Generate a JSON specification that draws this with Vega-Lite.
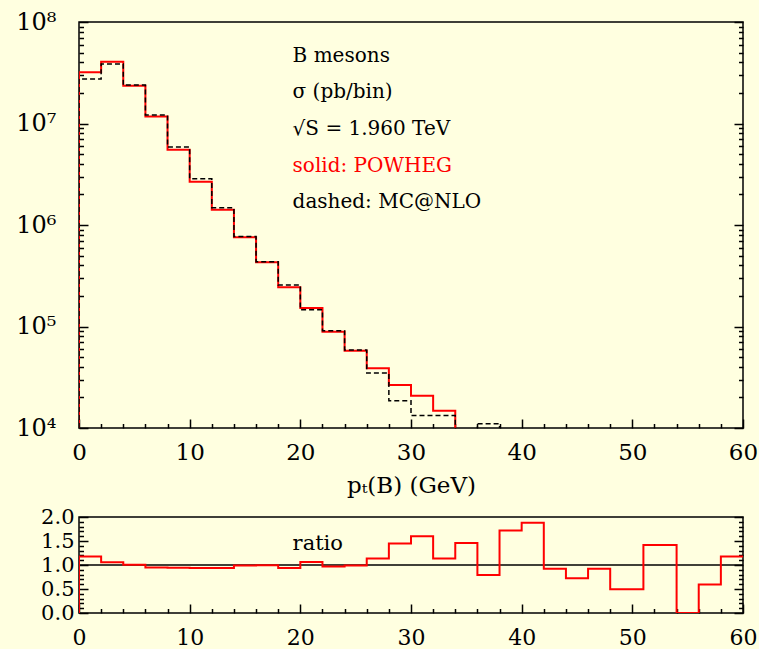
{
  "$schema": "https://vega.github.io/schema/vega-lite/v6.json",
  "background": "#ffffe0",
  "padding": {"left": 15, "top": 9, "right": 5, "bottom": 5},
  "spacing": 6,
  "config": {
    "font": "DejaVu Serif",
    "view": {"stroke": "black", "strokeWidth": 1.5, "fill": "#ffffe0"},
    "axis": {
      "domain": false, "grid": false, "tickColor": "black", "tickWidth": 1.5,
      "labelColor": "black", "labelFont": "DejaVu Serif", "titleFont": "DejaVu Serif",
      "titleColor": "black", "titleFontWeight": "normal", "labelFlush": false, "labelOverlap": false
    }
  },
  "datasets": {
    "powheg": [
      {"i": 0, "pt": 0, "sigma": 10000}, {"i": 1, "pt": 0, "sigma": 32000000},
      {"i": 2, "pt": 2, "sigma": 40600000}, {"i": 3, "pt": 4, "sigma": 23600000},
      {"i": 4, "pt": 6, "sigma": 11700000}, {"i": 5, "pt": 8, "sigma": 5520000},
      {"i": 6, "pt": 10, "sigma": 2670000}, {"i": 7, "pt": 12, "sigma": 1410000},
      {"i": 8, "pt": 14, "sigma": 756000}, {"i": 9, "pt": 16, "sigma": 429000},
      {"i": 10, "pt": 18, "sigma": 243000}, {"i": 11, "pt": 20, "sigma": 152000},
      {"i": 12, "pt": 22, "sigma": 88900}, {"i": 13, "pt": 24, "sigma": 57800},
      {"i": 14, "pt": 26, "sigma": 38700}, {"i": 15, "pt": 28, "sigma": 26500},
      {"i": 16, "pt": 30, "sigma": 20800}, {"i": 17, "pt": 32, "sigma": 14800},
      {"i": 18, "pt": 34, "sigma": 10000}
    ],
    "mcnlo": [
      {"i": 0, "pt": 0, "sigma": 10000}, {"i": 1, "pt": 0, "sigma": 27400000},
      {"i": 2, "pt": 2, "sigma": 38600000}, {"i": 3, "pt": 4, "sigma": 23900000},
      {"i": 4, "pt": 6, "sigma": 12100000}, {"i": 5, "pt": 8, "sigma": 5870000},
      {"i": 6, "pt": 10, "sigma": 2860000}, {"i": 7, "pt": 12, "sigma": 1480000},
      {"i": 8, "pt": 14, "sigma": 770000}, {"i": 9, "pt": 16, "sigma": 435000},
      {"i": 10, "pt": 18, "sigma": 256000}, {"i": 11, "pt": 20, "sigma": 146000},
      {"i": 12, "pt": 22, "sigma": 91000}, {"i": 13, "pt": 24, "sigma": 58600},
      {"i": 14, "pt": 26, "sigma": 34800}, {"i": 15, "pt": 28, "sigma": 18600},
      {"i": 16, "pt": 30, "sigma": 13300}, {"i": 17, "pt": 32, "sigma": 13300},
      {"i": 18, "pt": 34, "sigma": 5000}, {"i": 19, "pt": 36, "sigma": 11000},
      {"i": 20, "pt": 38, "sigma": 5000}
    ],
    "ratio": [
      {"i": 0, "pt": 0, "r": 0}, {"i": 1, "pt": 0, "r": 1.178},
      {"i": 2, "pt": 2, "r": 1.059}, {"i": 3, "pt": 4, "r": 1.005},
      {"i": 4, "pt": 6, "r": 0.95}, {"i": 5, "pt": 8, "r": 0.945},
      {"i": 6, "pt": 10, "r": 0.94}, {"i": 7, "pt": 12, "r": 0.935},
      {"i": 8, "pt": 14, "r": 0.99}, {"i": 9, "pt": 16, "r": 0.995},
      {"i": 10, "pt": 18, "r": 0.94}, {"i": 11, "pt": 20, "r": 1.06},
      {"i": 12, "pt": 22, "r": 0.97}, {"i": 13, "pt": 24, "r": 0.99},
      {"i": 14, "pt": 26, "r": 1.136}, {"i": 15, "pt": 28, "r": 1.45},
      {"i": 16, "pt": 30, "r": 1.6}, {"i": 17, "pt": 32, "r": 1.136},
      {"i": 18, "pt": 34, "r": 1.456}, {"i": 19, "pt": 36, "r": 0.794},
      {"i": 20, "pt": 38, "r": 1.72}, {"i": 21, "pt": 40, "r": 1.88},
      {"i": 22, "pt": 42, "r": 0.92}, {"i": 23, "pt": 44, "r": 0.725},
      {"i": 24, "pt": 46, "r": 0.92}, {"i": 25, "pt": 48, "r": 0.495},
      {"i": 26, "pt": 51, "r": 1.415}, {"i": 27, "pt": 54, "r": 0},
      {"i": 28, "pt": 56, "r": 0.592}, {"i": 29, "pt": 58, "r": 1.178},
      {"i": 30, "pt": 60, "r": 1.178}
    ],
    "one": [{}]
  },
  "vconcat": [
    {
      "width": 664,
      "height": 406,
      "resolve": {"axis": {"x": "independent", "y": "independent"}},
      "layer": [
        {
          "data": {"name": "powheg"},
          "mark": {"type": "line", "interpolate": "step-after", "color": "#ff0000", "strokeWidth": 2, "clip": true},
          "encoding": {
            "x": {
              "field": "pt", "type": "quantitative",
              "scale": {"domain": [0, 60], "nice": false, "zero": false},
              "axis": {
                "orient": "bottom", "title": "pₜ(B) (GeV)",
                "values": [0,2,4,6,8,10,12,14,16,18,20,22,24,26,28,30,32,34,36,38,40,42,44,46,48,50,52,54,56,58,60],
                "labelExpr": "datum.value % 10 === 0 ? datum.label : ''",
                "tickSize": {"condition": {"test": "datum.value % 10 === 0", "value": -9}, "value": -4.5},
                "labelFontSize": 23, "labelPadding": 22, "titleFontSize": 23, "titlePadding": 6
              }
            },
            "y": {
              "field": "sigma", "type": "quantitative",
              "scale": {"type": "log", "domain": [10000, 100000000], "nice": false},
              "axis": {
                "orient": "left", "title": null,
                "values": [10000,20000,30000,40000,50000,60000,70000,80000,90000,100000,200000,300000,400000,500000,600000,700000,800000,900000,1000000,2000000,3000000,4000000,5000000,6000000,7000000,8000000,9000000,10000000,20000000,30000000,40000000,50000000,60000000,70000000,80000000,90000000,100000000],
                "labelExpr": "abs(log(datum.value)/LN10 - round(log(datum.value)/LN10)) < 0.000001 ? '10' + ['⁰','¹','²','³','⁴','⁵','⁶','⁷','⁸','⁹'][round(log(datum.value)/LN10)] : ''",
                "tickSize": {"condition": {"test": "abs(log(datum.value)/LN10 - round(log(datum.value)/LN10)) < 0.000001", "value": -9}, "value": -4.5},
                "labelFontSize": 24, "labelPadding": 32
              }
            },
            "order": {"field": "i", "type": "quantitative"}
          }
        },
        {
          "data": {"name": "mcnlo"},
          "mark": {"type": "line", "interpolate": "step-after", "color": "black", "strokeWidth": 1.5, "strokeDash": [5, 3], "clip": true},
          "encoding": {
            "x": {"field": "pt", "type": "quantitative", "axis": null},
            "y": {
              "field": "sigma", "type": "quantitative",
              "axis": {
                "orient": "right", "title": null, "labels": false,
                "values": [10000,20000,30000,40000,50000,60000,70000,80000,90000,100000,200000,300000,400000,500000,600000,700000,800000,900000,1000000,2000000,3000000,4000000,5000000,6000000,7000000,8000000,9000000,10000000,20000000,30000000,40000000,50000000,60000000,70000000,80000000,90000000,100000000],
                "tickSize": {"condition": {"test": "abs(log(datum.value)/LN10 - round(log(datum.value)/LN10)) < 0.000001", "value": -9}, "value": -4.5}
              }
            },
            "order": {"field": "i", "type": "quantitative"}
          }
        },
        {
          "data": {"name": "one"},
          "mark": {"type": "text", "align": "left", "baseline": "middle", "fontSize": 20, "color": "black"},
          "encoding": {
            "x": {"datum": 19.3, "type": "quantitative", "axis": null},
            "y": {"datum": 46600000, "type": "quantitative", "axis": null},
            "text": {"value": "B mesons"}
          }
        },
        {
          "data": {"name": "one"},
          "mark": {"type": "text", "align": "left", "baseline": "middle", "fontSize": 20, "color": "black"},
          "encoding": {
            "x": {"datum": 19.3, "type": "quantitative", "axis": null},
            "y": {"datum": 20400000, "type": "quantitative", "axis": null},
            "text": {"value": "σ (pb/bin)"}
          }
        },
        {
          "data": {"name": "one"},
          "mark": {"type": "text", "align": "left", "baseline": "middle", "fontSize": 20, "color": "black"},
          "encoding": {
            "x": {"datum": 19.3, "type": "quantitative", "axis": null},
            "y": {"datum": 8830000, "type": "quantitative", "axis": null},
            "text": {"value": "√S = 1.960 TeV"}
          }
        },
        {
          "data": {"name": "one"},
          "mark": {"type": "text", "align": "left", "baseline": "middle", "fontSize": 20, "color": "#ff0000"},
          "encoding": {
            "x": {"datum": 19.3, "type": "quantitative", "axis": null},
            "y": {"datum": 3840000, "type": "quantitative", "axis": null},
            "text": {"value": "solid: POWHEG"}
          }
        },
        {
          "data": {"name": "one"},
          "mark": {"type": "text", "align": "left", "baseline": "middle", "fontSize": 20, "color": "black"},
          "encoding": {
            "x": {"datum": 19.3, "type": "quantitative", "axis": null},
            "y": {"datum": 1670000, "type": "quantitative", "axis": null},
            "text": {"value": "dashed: MC@NLO"}
          }
        }
      ]
    },
    {
      "width": 664,
      "height": 96,
      "resolve": {"axis": {"x": "independent", "y": "independent"}},
      "layer": [
        {
          "data": {"name": "one"},
          "mark": {"type": "rule", "color": "black", "strokeWidth": 1.5},
          "encoding": {
            "y": {
              "datum": 1, "type": "quantitative",
              "scale": {"domain": [0, 2], "nice": false},
              "axis": {
                "orient": "right", "title": null, "labels": false,
                "values": [0,0.1,0.2,0.3,0.4,0.5,0.6,0.7,0.8,0.9,1,1.1,1.2,1.3,1.4,1.5,1.6,1.7,1.8,1.9,2],
                "tickSize": {"condition": {"test": "abs(datum.value*2 - round(datum.value*2)) < 0.000001", "value": -9}, "value": -4.5}
              }
            }
          }
        },
        {
          "data": {"name": "ratio"},
          "mark": {"type": "line", "interpolate": "step-after", "color": "#ff0000", "strokeWidth": 2, "clip": true},
          "encoding": {
            "x": {
              "field": "pt", "type": "quantitative",
              "scale": {"domain": [0, 60], "nice": false, "zero": false},
              "axis": {
                "orient": "bottom", "title": null,
                "values": [0,2,4,6,8,10,12,14,16,18,20,22,24,26,28,30,32,34,36,38,40,42,44,46,48,50,52,54,56,58,60],
                "labelExpr": "datum.value % 10 === 0 ? datum.label : ''",
                "tickSize": {"condition": {"test": "datum.value % 10 === 0", "value": -9}, "value": -4.5},
                "labelFontSize": 22, "labelPadding": 23
              }
            },
            "y": {
              "field": "r", "type": "quantitative",
              "axis": {
                "orient": "left", "title": null,
                "values": [0,0.1,0.2,0.3,0.4,0.5,0.6,0.7,0.8,0.9,1,1.1,1.2,1.3,1.4,1.5,1.6,1.7,1.8,1.9,2],
                "labelExpr": "abs(datum.value*2 - round(datum.value*2)) < 0.000001 ? format(datum.value, '.1f') : ''",
                "tickSize": {"condition": {"test": "abs(datum.value*2 - round(datum.value*2)) < 0.000001", "value": -9}, "value": -4.5},
                "labelFontSize": 21, "labelPadding": 14
              }
            },
            "order": {"field": "i", "type": "quantitative"}
          }
        },
        {
          "data": {"name": "one"},
          "mark": {"type": "text", "align": "left", "baseline": "middle", "fontSize": 21, "color": "black"},
          "encoding": {
            "x": {"datum": 19.3, "type": "quantitative", "axis": null},
            "y": {"datum": 1.44, "type": "quantitative", "axis": null},
            "text": {"value": "ratio"}
          }
        }
      ]
    }
  ]
}
